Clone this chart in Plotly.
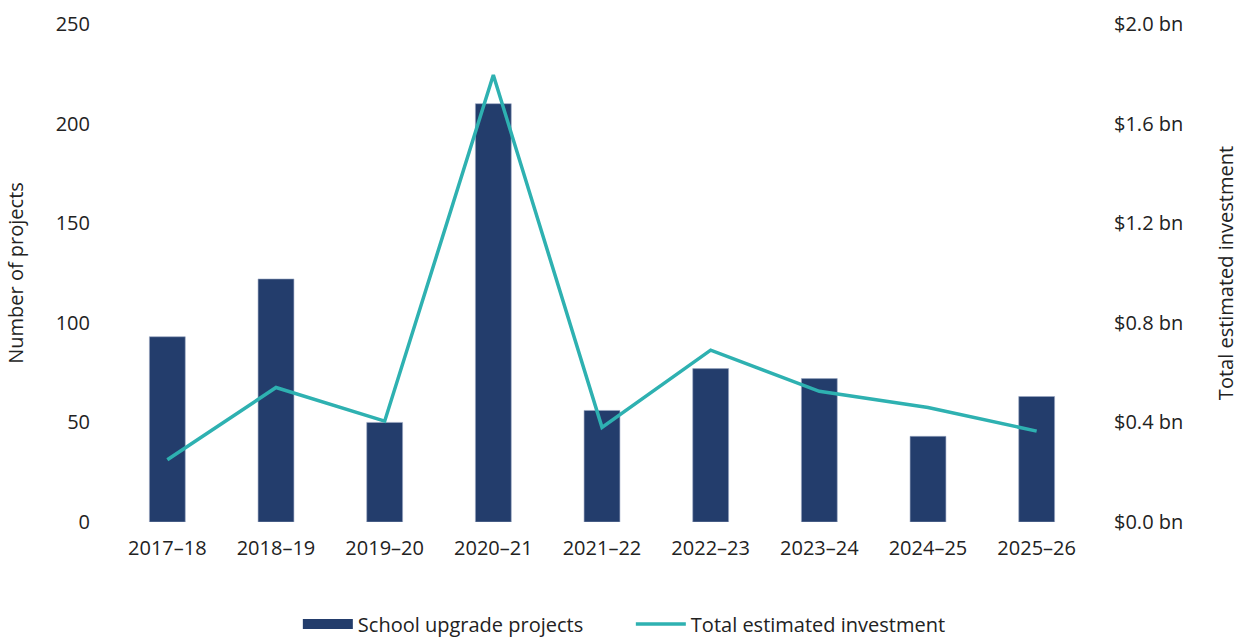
import plotly.graph_objects as go

years = ["2017–18", "2018–19", "2019–20", "2020–21", "2021–22", "2022–23", "2023–24", "2024–25", "2025–26"]
projects = [93, 122, 50, 210, 56, 77, 72, 43, 63]
investment_bn = [0.25, 0.54, 0.405, 1.795, 0.38, 0.69, 0.525, 0.46, 0.365]

right_ticks = [0.0, 0.4, 0.8, 1.2, 1.6, 2.0]
right_labels = ["$%.1f bn" % v for v in right_ticks]

FONT = "Open Sans, Noto Sans, sans-serif"
BAR = "#233D6C"
LINE = "#2EB1B1"

fig = go.Figure()
fig.add_trace(go.Bar(
    x=years, y=projects, name="School upgrade projects",
    marker=dict(color=BAR, line=dict(color="#9aa8c2", width=0.6)),
    yaxis="y", showlegend=False,
))
# legend-only entry so the bar key is drawn as a wide rectangle
fig.add_trace(go.Scatter(
    x=[None], y=[None], name="School upgrade projects",
    mode="lines", line=dict(color=BAR, width=12), yaxis="y",
))
fig.add_trace(go.Scatter(
    x=years, y=investment_bn, name="Total estimated investment",
    mode="lines", line=dict(color=LINE, width=3.5),
    yaxis="y2",
))

fig.update_layout(
    width=1239, height=640,
    margin=dict(l=113, r=148, t=24, b=118),
    paper_bgcolor="white", plot_bgcolor="white",
    font=dict(family=FONT, size=20, color="#222222"),
    bargap=0.67,
    showlegend=True,
    legend=dict(orientation="h", x=0.189, xanchor="left",
                yref="container", y=0.025, yanchor="middle",
                font=dict(size=20), itemwidth=50, entrywidth=268, entrywidthmode="pixels",
                traceorder="normal"),
    xaxis=dict(showgrid=False, showline=False, zeroline=False, ticks="", automargin=False,
               tickfont=dict(size=20), ticklabelstandoff=12),
    yaxis=dict(range=[0, 250], dtick=50, showgrid=False, zeroline=False, showline=False,
               automargin=False,
               title=dict(text="Number of projects", font=dict(size=20), standoff=26),
               tickfont=dict(size=20), ticklabelstandoff=22),
    yaxis2=dict(range=[0, 2.0], overlaying="y", side="right", showgrid=False, zeroline=False,
                automargin=False,
                tickvals=right_ticks, ticktext=right_labels,
                title=dict(text="Total estimated investment", font=dict(size=20), standoff=38),
                tickfont=dict(size=20), ticklabelstandoff=22),
)

fig.write_html("out.html", config={"displayModeBar": False},
               post_script="document.body.style.margin='0';")
